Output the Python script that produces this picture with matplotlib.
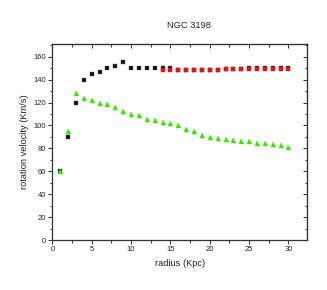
import matplotlib
matplotlib.use("Agg")
import matplotlib.pyplot as plt
from matplotlib.ticker import MultipleLocator

plt.rcParams['font.family'] = ['Liberation Sans', 'DejaVu Sans']

# black squares: observed rotation curve
r_obs = list(range(1, 31))
v_obs = [60, 90, 120, 140, 145, 147, 150, 152, 155, 150,
         150, 150, 150, 150, 150, 148, 148, 148, 148, 148,
         148, 149, 149, 149, 150, 150, 150, 150, 150, 150]

# red points: model fit (from r = 14)
r_fit = list(range(14, 31))
v_fit = [148.5, 148.5, 148.5, 148.5, 148.5, 148.5, 148.5, 148.5, 149, 149,
         149, 149.5, 149.5, 149.5, 149.5, 149.5, 149.5]

# green triangles
r_tri = list(range(1, 31))
v_tri = [60, 95, 128, 124, 122, 120, 119, 116, 113, 110,
         109, 106, 105, 103, 102, 100, 97, 95, 92, 90,
         89, 88, 87, 86, 86, 85, 85, 84, 83, 81]

fig = plt.figure(figsize=(3.27, 2.90), dpi=100)
ax = fig.add_axes([0.160, 0.1724, 0.780, 0.6748])

ax.plot(r_obs, v_obs, 's', color='#111111', ms=3.2, mec='#555555', mew=0.3)
ax.plot(r_fit, v_fit, 's', color='#ee1111', ms=2.8, mec='#aa2222', mew=0.3)
ax.plot(r_tri, v_tri, '^', color='#33ee00', ms=3.6, mec='#55cc22', mew=0.3)

ax.set_xlim(0, 32.4)
ax.set_ylim(0, 170.8)
ax.xaxis.set_major_locator(MultipleLocator(5))
ax.xaxis.set_minor_locator(MultipleLocator(2.5))
ax.yaxis.set_major_locator(MultipleLocator(20))
ax.yaxis.set_minor_locator(MultipleLocator(10))

for s in ax.spines.values():
    s.set_color('#333333')
    s.set_linewidth(0.9)

ax.tick_params(which='both', direction='out', colors='#333333', width=0.7,
               labelsize=5.5, pad=1.5, labelcolor='#222222')
ax.tick_params(which='major', length=3)
ax.tick_params(which='minor', length=1.8)

# mirrored ticks on top/right pointing in
top = ax.secondary_xaxis('top')
top.set_xticks(range(0, 31, 5))
top.xaxis.set_minor_locator(MultipleLocator(2.5))
top.tick_params(which='both', direction='in', labeltop=False, colors='#333333', width=0.7)
top.tick_params(which='major', length=3)
top.tick_params(which='minor', length=1.8)
right = ax.secondary_yaxis('right')
right.set_yticks(range(0, 161, 20))
right.yaxis.set_minor_locator(MultipleLocator(10))
right.tick_params(which='both', direction='in', labelright=False, colors='#333333', width=0.7)
right.tick_params(which='major', length=3)
right.tick_params(which='minor', length=1.8)

ax.set_xlabel('radius (Kpc)', fontsize=6.7, color='#222222', labelpad=4)
ax.set_ylabel('rotation velocity (Km/s)', fontsize=6.7, color='#222222', labelpad=3)
fig.text(189 / 327, 1 - 25 / 290, 'NGC 3198', fontsize=6.7, color='#222222',
         ha='center', va='center')

fig.savefig('out.png', dpi=100)
